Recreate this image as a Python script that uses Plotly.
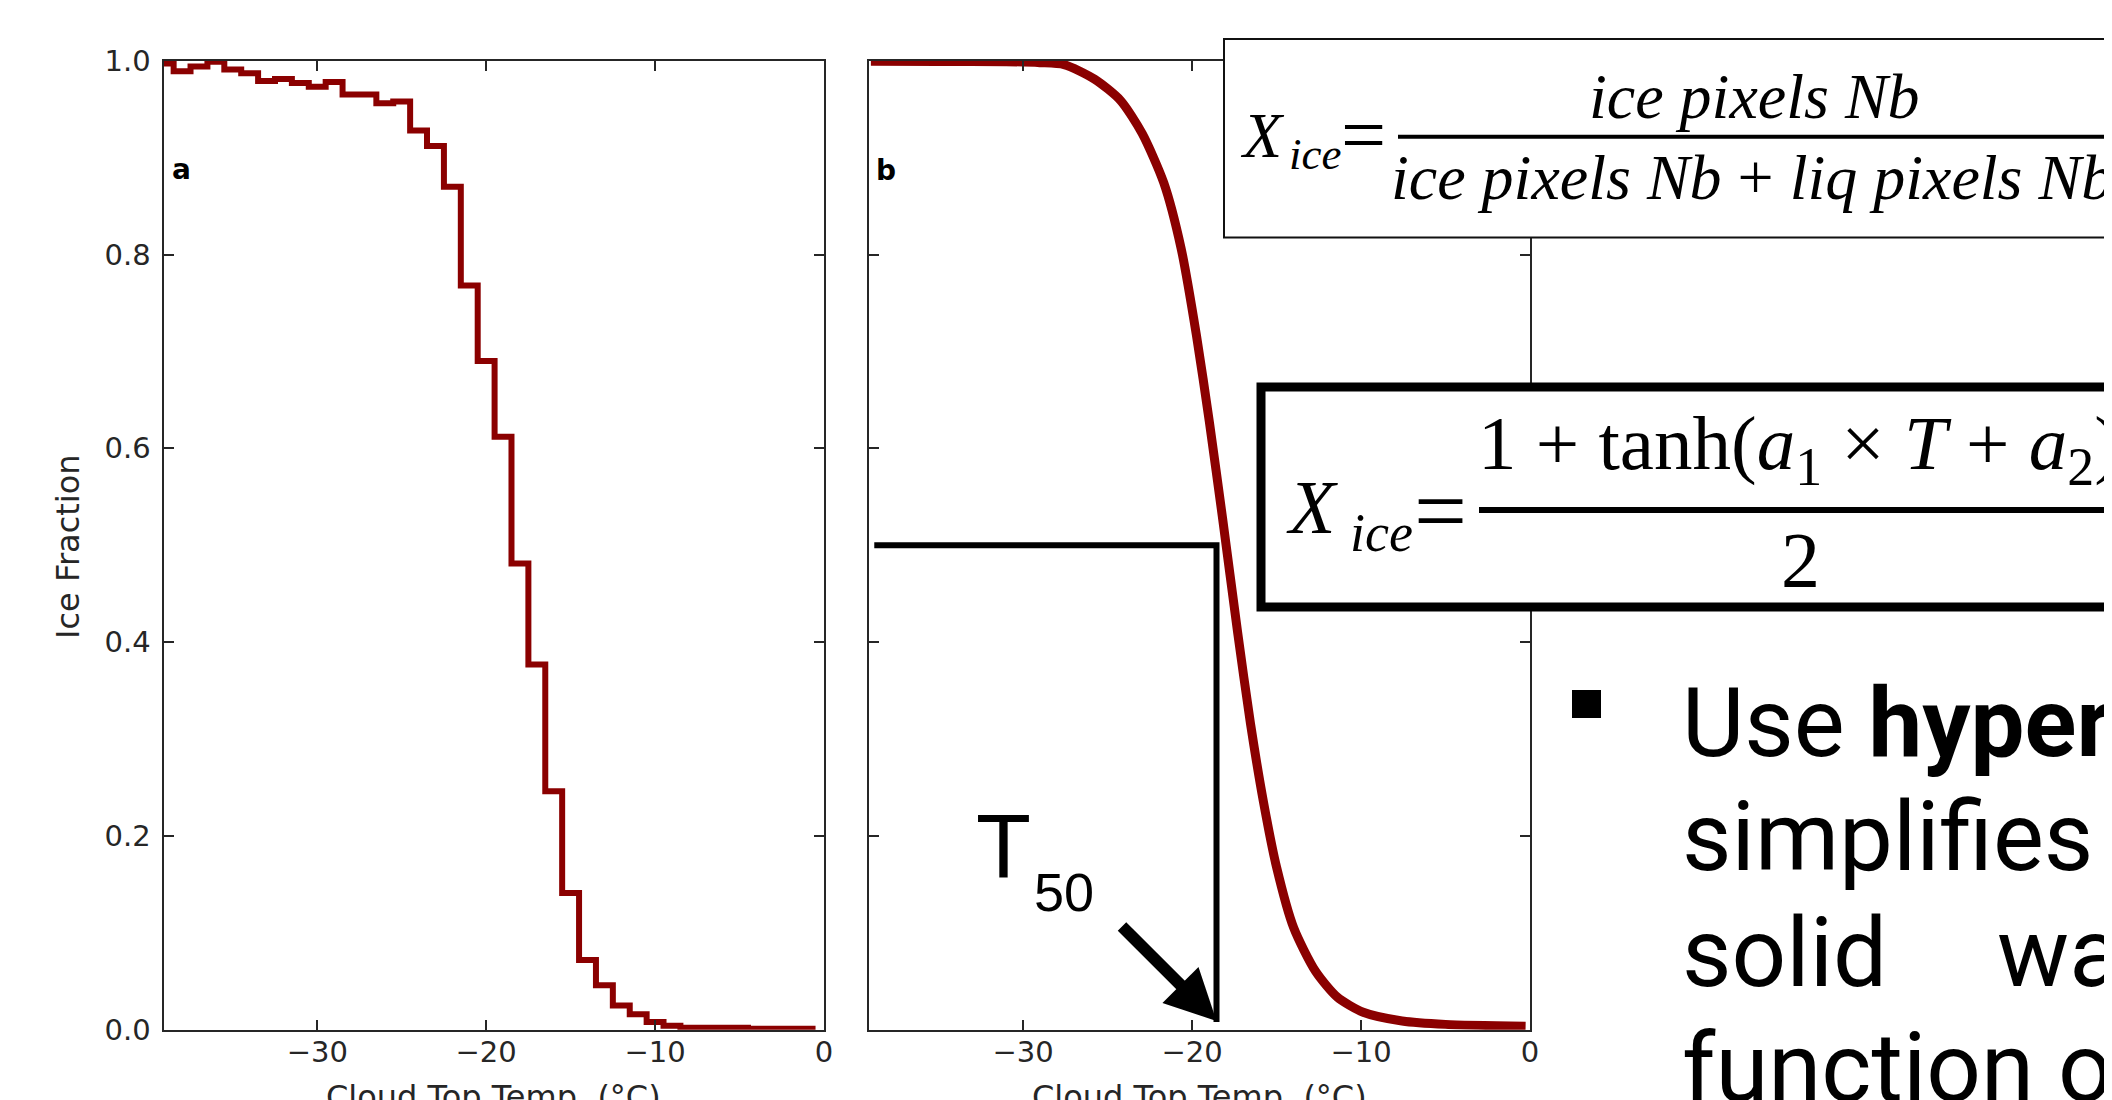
import plotly.graph_objects as go

# page body has an 8px margin: the figure is sized/offset so it fills the 2112x1100 window
OFF = 8
W, H = 2112 - OFF, 1100 - OFF

# ---------------- data ----------------
# panel a: binned ice fraction (1 degC bins, centres)
hist_temp = [-39, -38, -37, -36, -35, -34, -33, -32, -31, -30,
             -29, -28, -27, -26, -25, -24, -23, -22, -21, -20,
             -19, -18, -17, -16, -15, -14, -13, -12, -11, -10,
             -9, -8, -7, -6, -5, -4, -3, -2, -1]
hist_frac = [0.997, 0.989, 0.994, 0.999, 0.991, 0.987, 0.979, 0.981, 0.977, 0.973,
             0.978, 0.965, 0.965, 0.956, 0.958, 0.928, 0.912, 0.870, 0.768, 0.690,
             0.612, 0.481, 0.377, 0.246, 0.141, 0.072, 0.046, 0.025, 0.016, 0.008,
             0.004, 0.002, 0.002, 0.002, 0.002, 0.001, 0.001, 0.001, 0.001]
bin_width = 1.0

# panel b: fitted tanh curve
fit_temp = [-39.0, -35.0, -31.0, -29.0, -27.57, -25.77, -24.23, -22.95, -21.67, -20.64,
            -19.74, -18.97, -18.20, -17.30, -16.54, -15.77, -15.00, -13.98, -12.70, -11.41,
            -9.87, -7.57, -5.00, -0.26]
fit_frac = [0.9995, 0.9993, 0.999, 0.998, 0.996, 0.981, 0.959, 0.925, 0.874, 0.806,
            0.717, 0.627, 0.529, 0.410, 0.316, 0.235, 0.168, 0.105, 0.0605, 0.0337,
            0.018, 0.009, 0.0055, 0.0036]

t50 = -18.55
half_frac = 0.5
guide_start = -38.8
guide_bottom = 0.008

x_ticks = [-30, -20, -10, 0]
y_ticks = [0.0, 0.2, 0.4, 0.6, 0.8, 1.0]
x_range = [-39.1, 0]
y_range = [0, 1]

# ---------------- helpers ----------------
def px(x):
    return (x - OFF) / W

def py(y):
    return 1 - (y - OFF) / H

AX = '#262626'
RED = '#8b0000'

def txt(x, baseline, s, size, family, anchor='left', asc=0.34, angle=0, color='black'):
    yc = baseline - asc * size
    return dict(x=px(x), y=py(yc), xref='paper', yref='paper', text=s, showarrow=False,
                xanchor=anchor, yanchor='middle', textangle=angle,
                font=dict(family=family, size=size, color=color),
                borderpad=0, borderwidth=0)

# ---------------- figure ----------------
fig = go.Figure()

step_x = [t - bin_width / 2 for t in hist_temp] + [hist_temp[-1] + bin_width / 2]
step_y = hist_frac + [hist_frac[-1]]
fig.add_trace(go.Scatter(x=step_x, y=step_y, mode='lines', line=dict(color=RED, width=6, shape='hv'),
                         xaxis='x', yaxis='y', showlegend=False, hoverinfo='skip'))

fig.add_trace(go.Scatter(x=fit_temp, y=fit_frac, mode='lines',
                         line=dict(color=RED, width=9, shape='spline', smoothing=0.7),
                         xaxis='x2', yaxis='y2', showlegend=False, hoverinfo='skip'))

fig.add_trace(go.Scatter(x=[guide_start, t50, t50], y=[half_frac, half_frac, guide_bottom], mode='lines',
                         line=dict(color='black', width=6), xaxis='x2', yaxis='y2',
                         showlegend=False, hoverinfo='skip'))

common = dict(ticks='inside', ticklen=10, tickwidth=2, tickcolor=AX, showline=True, linewidth=2,
              linecolor=AX, mirror='ticks', showgrid=False, zeroline=False, automargin=False,
              tickfont=dict(family='DejaVu Sans', size=29, color=AX))

ydom = [py(1029.7), py(60.7)]
fig.update_layout(
    width=W, height=H, autosize=False,
    margin=dict(l=0, r=0, t=0, b=0, pad=0),
    paper_bgcolor='white', plot_bgcolor='white',
    xaxis=dict(domain=[px(163.5), px(824)], range=x_range, tickvals=x_ticks, anchor='y',
               ticklabelstandoff=-5, **common),
    yaxis=dict(domain=ydom, range=y_range, tickvals=y_ticks, tickformat='.1f', anchor='x',
               ticklabelstandoff=5, **common),
    xaxis2=dict(domain=[px(869.2), px(1530)], range=x_range, tickvals=x_ticks, anchor='y2',
                ticklabelstandoff=-5, **common),
    yaxis2=dict(domain=ydom, range=y_range, tickvals=y_ticks, anchor='x2', showticklabels=False,
                **common),
)

shapes = []
# thin formula box
shapes.append(dict(type='rect', xref='paper', yref='paper', x0=px(1224), x1=px(2140), y0=py(39), y1=py(237.5),
                   line=dict(color='#111', width=2), fillcolor='white', layer='above'))
shapes.append(dict(type='line', xref='paper', yref='paper', x0=px(1398), x1=px(2140), y0=py(136.8), y1=py(136.8),
                   line=dict(color='black', width=4), layer='above'))
# thick formula box
shapes.append(dict(type='rect', xref='paper', yref='paper', x0=px(1261), x1=px(2150), y0=py(387), y1=py(607),
                   line=dict(color='black', width=9), fillcolor='white', layer='above'))
shapes.append(dict(type='line', xref='paper', yref='paper', x0=px(1479), x1=px(2140), y0=py(510), y1=py(510),
                   line=dict(color='black', width=6), layer='above'))
# bullet
shapes.append(dict(type='rect', xref='paper', yref='paper', x0=px(1572), x1=px(1601), y0=py(690), y1=py(718),
                   line=dict(width=0), fillcolor='black', layer='above'))
fig.update_layout(shapes=shapes)

SERIF = 'Liberation Serif'
ann = []
# panel labels
ann.append(txt(172, 179, '<b>a</b>', 28, 'DejaVu Sans'))
ann.append(txt(875.5, 179.6, '<b>b</b>', 28, 'DejaVu Sans'))
# axis titles
ann.append(dict(x=px(68), y=py(547), xref='paper', yref='paper', text='Ice Fraction', showarrow=False,
                textangle=-90, xanchor='center', yanchor='middle',
                font=dict(family='DejaVu Sans', size=32, color=AX), borderpad=0, borderwidth=0))
ann.append(txt(493.7, 1108.3, 'Cloud Top Temp. (°C)', 32, 'DejaVu Sans', anchor='center', color=AX))
ann.append(txt(1199.6, 1108.3, 'Cloud Top Temp. (°C)', 32, 'DejaVu Sans', anchor='center', color=AX))
# T50 label
ann.append(txt(976, 877.5, 'T', 90, 'Liberation Sans'))
ann.append(txt(1033.5, 910, '50', 54, 'Liberation Sans'))
# arrow to T50
ann.append(dict(x=t50, y=0.009, xref='x2', yref='y2', text='', showarrow=True, arrowhead=2,
                arrowsize=0.85, arrowwidth=12, arrowcolor='black', ax=-96, ay=-96, standoff=0))
# formula 1
ann.append(txt(1240, 157.5, '<i>X</i>', 64, SERIF))
ann.append(txt(1289, 169, '<i>ice</i>', 45, SERIF))
ann.append(txt(1363, 162, '=', 80, SERIF, anchor='center'))
ann.append(txt(1754, 118, '<i>ice pixels Nb</i>', 64, SERIF, anchor='center'))
ann.append(txt(1752, 199, '<i>ice pixels Nb</i> + <i>liq pixels Nb</i>', 64, SERIF, anchor='center'))
# formula 2
ann.append(txt(1286, 533, '<i>X</i>', 76, SERIF))
ann.append(txt(1350, 551, '<i>ice</i>', 54, SERIF))
ann.append(txt(1440, 542, '=', 94, SERIF, anchor='center'))
ann.append(txt(1478, 474.7, '1 + tanh(<i>a</i><sub>1</sub> × <i>T</i> + <i>a</i><sub>2</sub>)', 77, SERIF))
ann.append(txt(1800, 586, '2', 78, SERIF, anchor='center'))
# slide text
ROB = 'Roboto'
ann.append(txt(1682, 756, 'Use <b>hyper</b>', 96, ROB))
ann.append(txt(1682, 870, 'simplifies', 96, ROB))
ann.append(txt(1682, 986, 'solid', 96, ROB))
ann.append(txt(1997, 986, 'wa', 96, ROB))
ann.append(txt(1682, 1101, 'function o', 96, ROB))
fig.update_layout(annotations=ann)

fig.write_html('out.html')
